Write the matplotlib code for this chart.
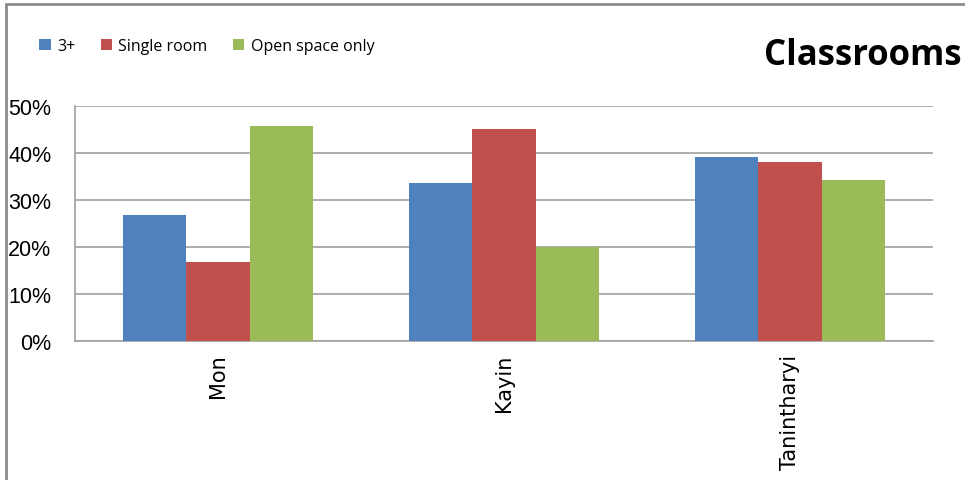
import matplotlib
matplotlib.use("Agg")
import matplotlib.pyplot as plt
import matplotlib.ticker as ticker
from matplotlib.patches import Rectangle
import numpy as np

regions = ["Mon", "Kayin", "Tanintharyi"]
series_names = ["3+", "Single room", "Open space only"]
three_plus = [26.8, 33.7, 39.2]
single_room = [16.9, 45.1, 38.1]
open_space = [45.8, 20.0, 34.3]
colors = ["#4F81BD", "#C0504D", "#9BBB59"]

plt.rcParams["font.family"] = ["Open Sans", "DejaVu Sans"]

fig = plt.figure(figsize=(9.65, 4.81), dpi=100)
ax = fig.add_axes([75 / 965, 1 - 342 / 481, 858 / 965, 235 / 481])

x = np.arange(len(regions))
w = 0.222
for k, (vals, name) in enumerate(zip([three_plus, single_room, open_space], series_names)):
    ax.bar(x + (k - 1) * w, vals, w, color=colors[k], label=name, zorder=3)

ax.set_ylim(0, 50)
ax.set_xlim(-0.5, 2.5)
ax.yaxis.set_major_locator(ticker.MultipleLocator(10))
ax.yaxis.set_major_formatter(ticker.FormatStrFormatter("%d%%"))
ax.grid(axis="y", color="#a0a0a0", linewidth=1.2, zorder=0)
for s in ["top", "right"]:
    ax.spines[s].set_visible(False)
for s in ["left", "bottom"]:
    ax.spines[s].set_color("#a0a0a0")
    ax.spines[s].set_linewidth(1.2)
ax.tick_params(axis="both", length=0)
ax.tick_params(axis="y", labelsize=15.5, pad=17)
for t in ax.get_yticklabels():
    t.set_fontfamily(["Liberation Sans", "DejaVu Sans"])
ax.set_xticks(x)
ax.set_xticklabels(regions, rotation=90, fontsize=15, va="top", family=["DejaVu Sans"])
ax.tick_params(axis="x", pad=9)

leg = fig.legend(loc="upper left", bbox_to_anchor=(25 / 965, 1 - 25 / 481), ncol=3, frameon=False,
                 fontsize=11.5, handlelength=0.7, handleheight=0.7, handletextpad=0.4, columnspacing=1.6)

fig.text(962 / 965, 1 - 56 / 481, "Classrooms", fontsize=25, fontweight="bold",
         ha="right", va="center")

# outer chart frame
fig.add_artist(Rectangle((6 / 965, -0.1), 1.2, 1 - 5 / 481 + 0.1, transform=fig.transFigure,
                         fill=False, edgecolor="#8c8c8c", linewidth=2))

fig.savefig("out.png", dpi=100)
